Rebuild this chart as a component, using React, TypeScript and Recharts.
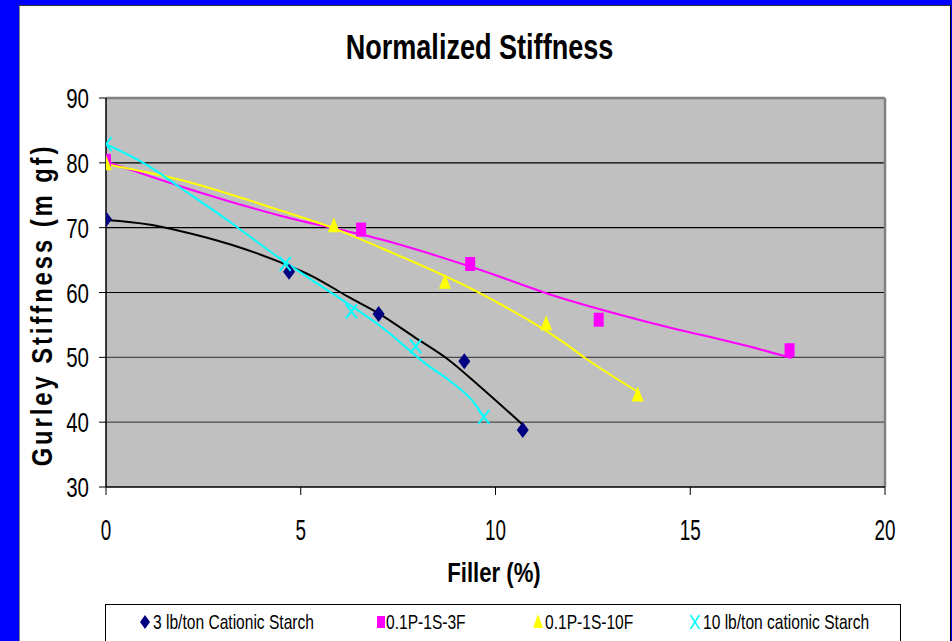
import React from 'react';
import {
  ComposedChart,
  Scatter,
  Line,
  XAxis,
  YAxis,
  ReferenceLine,
  ReferenceArea,
  Legend,
} from 'recharts';

const FONT = "'Liberation Sans', Arial, sans-serif";
const NARROW = 0.82;

const chartTitle = 'Normalized Stiffness';
const xAxisTitle = 'Filler (%)';
const yAxisTitle = 'Gurley Stiffness (m gf)';

const seriesNames = [
  '3 lb/ton Cationic Starch',
  '0.1P-1S-3F',
  '0.1P-1S-10F',
  '10 lb/ton cationic Starch',
];
const seriesColors = ['#000080', '#FF00FF', '#FFFF00', '#00FFFF'];
const trendColors = ['#000000', '#FF00FF', '#FFFF00', '#00FFFF'];

const xTicks = [0, 5, 10, 15, 20];
const yTicks = [30, 40, 50, 60, 70, 80, 90];
const gridValues = [40, 50, 60, 70, 80];

// measured points
const starch3Points = [
  { x: 0, y: 71.3 },
  { x: 4.7, y: 63.2 },
  { x: 7.0, y: 56.7 },
  { x: 9.2, y: 49.4 },
  { x: 10.7, y: 38.8 },
];
const p3fPoints = [
  { x: 0, y: 80.3 },
  { x: 6.55, y: 69.7 },
  { x: 9.35, y: 64.4 },
  { x: 12.65, y: 55.8 },
  { x: 17.55, y: 51.1 },
];
const p10fPoints = [
  { x: 0, y: 79.8 },
  { x: 5.85, y: 70.2 },
  { x: 8.7, y: 61.5 },
  { x: 11.3, y: 55.1 },
  { x: 13.65, y: 44.1 },
];
const starch10Points = [
  { x: 0, y: 82.9 },
  { x: 4.6, y: 64.4 },
  { x: 6.3, y: 57.1 },
  { x: 7.95, y: 51.7 },
  { x: 9.7, y: 40.8 },
];

// trendlines
const starch3Trend = [
  { x: 0, y: 71.2 },
  { x: 1.1, y: 70.5 },
  { x: 1.9, y: 69.5 },
  { x: 3.2, y: 67.4 },
  { x: 4.5, y: 64.6 },
  { x: 5.3, y: 62.5 },
  { x: 6.2, y: 59.4 },
  { x: 7.05, y: 56.6 },
  { x: 7.9, y: 53.2 },
  { x: 8.8, y: 49.6 },
  { x: 9.6, y: 45.5 },
  { x: 10.7, y: 39.6 },
];
const p3fTrend = [
  { x: 0, y: 80.2 },
  { x: 1.9, y: 76.4 },
  { x: 4.5, y: 71.8 },
  { x: 7.05, y: 68.2 },
  { x: 9.6, y: 63.5 },
  { x: 11.4, y: 59.7 },
  { x: 14, y: 55.3 },
  { x: 16.5, y: 51.7 },
  { x: 17.6, y: 49.9 },
];
const p10fTrend = [
  { x: 0, y: 79.8 },
  { x: 1.9, y: 77.4 },
  { x: 4.5, y: 72.6 },
  { x: 5.85, y: 69.9 },
  { x: 7.05, y: 66.9 },
  { x: 9.6, y: 59.9 },
  { x: 11.7, y: 52.5 },
  { x: 12.3, y: 49.9 },
  { x: 13.7, y: 44.5 },
];
const starch10Trend = [
  { x: 0, y: 82.9 },
  { x: 1.1, y: 79.5 },
  { x: 1.9, y: 76.2 },
  { x: 3.2, y: 70.8 },
  { x: 4.5, y: 65.1 },
  { x: 5.8, y: 59.9 },
  { x: 7.05, y: 54.8 },
  { x: 8.3, y: 48.6 },
  { x: 8.8, y: 46.5 },
  { x: 9.5, y: 42.6 },
  { x: 9.7, y: 40.8 },
];

const Diamond = (props: any) => {
  const { cx, cy } = props;
  return <path d={`M${cx},${cy - 8} L${cx + 6},${cy} L${cx},${cy + 8} L${cx - 6},${cy} Z`} fill={seriesColors[0]} />;
};
const Square = (props: any) => {
  const { cx, cy } = props;
  return <rect x={cx - 5} y={cy - 7} width={10} height={14} fill={seriesColors[1]} />;
};
const Triangle = (props: any) => {
  const { cx, cy } = props;
  return <path d={`M${cx},${cy - 9} L${cx + 6},${cy + 6} L${cx - 6},${cy + 6} Z`} fill={seriesColors[2]} />;
};
const Cross = (props: any) => {
  const { cx, cy } = props;
  return (
    <path
      d={`M${cx - 5.5},${cy - 7} L${cx + 5.5},${cy + 7} M${cx + 5.5},${cy - 7} L${cx - 5.5},${cy + 7}`}
      stroke={seriesColors[3]}
      strokeWidth={2}
      fill="none"
    />
  );
};

const XTick = (props: any) => {
  const { x, y, payload } = props;
  return (
    <g transform={`translate(${x},${y}) scale(${NARROW},1.3)`}>
      <text x={0} y={0} dy="0.72em" textAnchor="middle" fontSize={23} fontFamily={FONT} fill="#000">
        {payload.value}
      </text>
    </g>
  );
};
const YTick = (props: any) => {
  const { x, y, payload } = props;
  return (
    <g transform={`translate(${x},${y}) scale(${NARROW},1.12)`}>
      <text x={0} y={0} dy="0.36em" textAnchor="end" fontSize={25} fontFamily={FONT} fill="#000">
        {payload.value}
      </text>
    </g>
  );
};

const YLabel = () => (
  <g transform={`translate(52,305) rotate(-90) scale(${NARROW},1)`}>
    <text
      x={0}
      y={0}
      textAnchor="middle"
      fontSize={29}
      fontWeight="bold"
      fontFamily={FONT}
      style={{ letterSpacing: '3.6px' }}
      fill="#000"
    >
      {yAxisTitle}
    </text>
  </g>
);
const XLabel = () => (
  <g transform={`translate(494,582) scale(${NARROW},1)`}>
    <text x={0} y={0} textAnchor="middle" fontSize={27} fontWeight="bold" fontFamily={FONT} fill="#000">
      {xAxisTitle}
    </text>
  </g>
);

const legendIconX = [40, 276, 433, 590];
const legendTextX = [48, 281, 440, 598];

const LegendContent = () => (
  <svg width={796} height={50} style={{ display: 'block' }}>
    <rect x={0.5} y={0.5} width={795} height={60} fill="#fff" stroke="#000" strokeWidth={1} />
    {seriesNames.map((name, i) => {
      const cx = legendIconX[i];
      const cy = 18;
      let icon: any = null;
      if (i === 0) icon = <path d={`M${cx},${cy - 7} L${cx + 5},${cy} L${cx},${cy + 7} L${cx - 5},${cy} Z`} fill={seriesColors[0]} />;
      if (i === 1) icon = <rect x={cx - 4} y={cy - 6} width={8} height={12} fill={seriesColors[1]} />;
      if (i === 2) icon = <path d={`M${cx},${cy - 8} L${cx + 5},${cy + 6} L${cx - 5},${cy + 6} Z`} fill={seriesColors[2]} />;
      if (i === 3)
        icon = (
          <path
            d={`M${cx - 4.5},${cy - 7} L${cx + 4.5},${cy + 7} M${cx + 4.5},${cy - 7} L${cx - 4.5},${cy + 7}`}
            stroke={seriesColors[3]}
            strokeWidth={1.5}
          />
        );
      return (
        <g key={name}>
          {icon}
          <g transform={`translate(${legendTextX[i]},25) scale(${NARROW},1.1)`}>
            <text x={0} y={0} fontSize={19} fontFamily={FONT} fill="#000">
              {name}
            </text>
          </g>
        </g>
      );
    })}
  </svg>
);

export default function App() {
  return (
    <div
      style={{
        position: 'absolute',
        left: 0,
        top: 0,
        width: 952,
        height: 641,
        background: '#0000FF',
        overflow: 'hidden',
      }}
    >
      <div
        style={{
          position: 'absolute',
          left: 19,
          top: 5,
          width: 930,
          height: 700,
          background: '#fff',
          borderLeft: '1px solid #808080',
          borderTop: '1px solid #333',
          borderRight: '1px solid #000',
        }}
      />
      <div
        style={{
          position: 'absolute',
          left: 0,
          top: 29,
          width: 959,
          textAlign: 'center',
          fontFamily: FONT,
          fontWeight: 'bold',
          fontSize: 33,
          lineHeight: '33px',
          color: '#000',
          transform: `scale(${NARROW},1.08)`,
          transformOrigin: '479.5px 0px',
        }}
      >
        {chartTitle}
      </div>
      <div style={{ position: 'absolute', left: 0, top: 0 }}>
        <ComposedChart
          width={952}
          height={641}
          margin={{ top: 98, right: 67, bottom: 94, left: 46 }}
        >
          <XAxis
            type="number"
            dataKey="x"
            domain={[0, 20]}
            ticks={xTicks}
            interval={0}
            height={60}
            tickSize={8}
            tickMargin={23}
            axisLine={{ stroke: '#000', strokeWidth: 1.5 }}
            tickLine={{ stroke: '#000' }}
            tick={<XTick />}
            allowDataOverflow
            label={(p: any) => <XLabel />}
          />
          <YAxis
            type="number"
            dataKey="y"
            domain={[30, 90]}
            ticks={yTicks}
            interval={0}
            width={60}
            tickSize={7}
            tickMargin={10}
            axisLine={{ stroke: '#000', strokeWidth: 1.5 }}
            tickLine={{ stroke: '#000' }}
            tick={<YTick />}
            allowDataOverflow
            label={(p: any) => <YLabel />}
          />
          <ReferenceArea x1={0} x2={20} y1={30} y2={90} fill="#C0C0C0" fillOpacity={1} stroke="none" />
          {gridValues.map((v) => (
            <ReferenceLine key={v} y={v} stroke={v <= 50 ? '#4a4a4a' : '#000'} strokeWidth={1.2} />
          ))}
          <ReferenceLine y={90} stroke="#808080" strokeWidth={2.5} />
          <ReferenceLine x={20} stroke="#808080" strokeWidth={2.5} />
          <Scatter name={seriesNames[0]} data={starch3Points} shape={<Diamond />} isAnimationActive={false} legendType="none" />
          <Scatter name={seriesNames[1]} data={p3fPoints} shape={<Square />} isAnimationActive={false} legendType="none" />
          <Scatter name={seriesNames[2]} data={p10fPoints} shape={<Triangle />} isAnimationActive={false} legendType="none" />
          <Scatter name={seriesNames[3]} data={starch10Points} shape={<Cross />} isAnimationActive={false} legendType="none" />
          <Line data={starch3Trend} dataKey="y" type="monotone" stroke={trendColors[0]} strokeWidth={2} dot={false} activeDot={false} isAnimationActive={false} legendType="none" />
          <Line data={p3fTrend} dataKey="y" type="monotone" stroke={trendColors[1]} strokeWidth={2} dot={false} activeDot={false} isAnimationActive={false} legendType="none" />
          <Line data={p10fTrend} dataKey="y" type="monotone" stroke={trendColors[2]} strokeWidth={2} dot={false} activeDot={false} isAnimationActive={false} legendType="none" />
          <Line data={starch10Trend} dataKey="y" type="monotone" stroke={trendColors[3]} strokeWidth={2} dot={false} activeDot={false} isAnimationActive={false} legendType="none" />
          <Legend
            layout="horizontal"
            verticalAlign="middle"
            align="center"
            content={() => <LegendContent />}
            wrapperStyle={{ left: 105, top: 604, width: 796, height: 50 }}
          />
        </ComposedChart>
      </div>
    </div>
  );
}
